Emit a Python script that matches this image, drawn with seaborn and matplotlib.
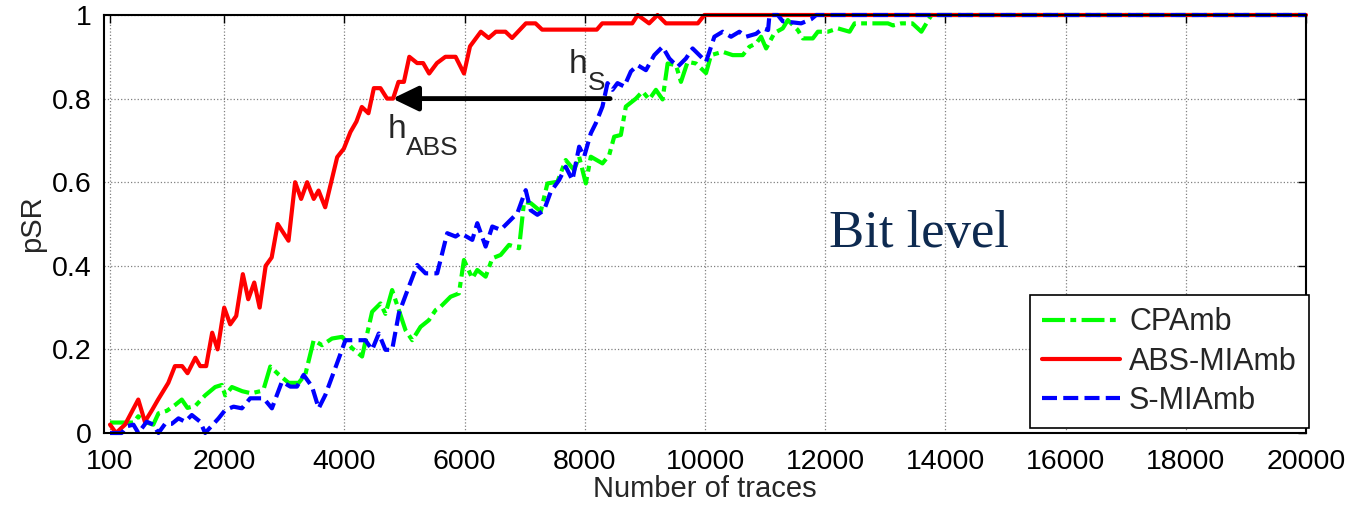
import matplotlib
matplotlib.use("Agg")
import matplotlib.pyplot as plt
import seaborn as sns
import pandas as pd

# ---------------- data ----------------
cpa_x = [100, 490, 570, 710, 820, 906, 1044, 1183, 1294, 1389, 1520, 1683, 1850, 1961, 2017,
         2128, 2300, 2450, 2600, 2656, 2767, 2906, 3072, 3239, 3350, 3489, 3628, 3794, 3961,
         4128, 4294, 4461, 4600, 4683, 4794, 4906, 5017, 5128, 5267, 5406, 5517, 5600, 5767,
         5906, 5989, 6128, 6211, 6350, 6461, 6600, 6739, 6906, 6989, 7100, 7267, 7378, 7544,
         7683, 7822, 7906, 8017, 8100, 8294, 8406, 8489, 8600, 8683, 8850, 8961, 9072, 9183,
         9294, 9378, 9517, 9600, 9711, 9850, 10017, 10100, 10294, 10461, 10628, 10739, 10850,
         10933, 11017, 11156, 11294, 11378, 11544, 11628, 11794, 11878, 12044, 12211, 12406,
         12489, 13044, 13128, 13267, 13450, 13600, 13767, 20000]
cpa_y = [0.025, 0.025, 0.04, 0.025, 0.02, 0.047, 0.053, 0.067, 0.08, 0.06, 0.065, 0.09, 0.11,
         0.115, 0.09, 0.11, 0.10, 0.095, 0.10, 0.105, 0.159, 0.14, 0.12, 0.12, 0.14, 0.222,
         0.21, 0.226, 0.23, 0.203, 0.183, 0.29, 0.31, 0.285, 0.342, 0.294, 0.246, 0.222, 0.254,
         0.27, 0.294, 0.302, 0.326, 0.334, 0.414, 0.37, 0.39, 0.374, 0.418, 0.426, 0.45, 0.442,
         0.553, 0.55, 0.53, 0.597, 0.601, 0.653, 0.629, 0.661, 0.597, 0.661, 0.645, 0.665,
         0.709, 0.713, 0.781, 0.80, 0.817, 0.798, 0.821, 0.798, 0.884, 0.88, 0.84, 0.888, 0.884,
         0.861, 0.904, 0.912, 0.904, 0.904, 0.924, 0.932, 0.948, 0.92, 0.957, 0.968, 0.988,
         0.964, 0.944, 0.944, 0.96, 0.96, 0.968, 0.96, 0.98, 0.98, 0.975, 0.98, 0.98, 0.96,
         1.0, 1.0]

abs_x = [100, 200, 350, 570, 680, 800, 900, 1070, 1180, 1300, 1390, 1520, 1600, 1700, 1800,
         1890, 2000, 2100, 2200, 2310, 2400, 2500, 2590, 2690, 2790, 2890, 3070, 3180, 3280,
         3380, 3490, 3570, 3680, 3880, 3990, 4100, 4200, 4290, 4400, 4490, 4600, 4710, 4810,
         4900, 4990, 5080, 5210, 5310, 5410, 5540, 5680, 5850, 5990, 6090, 6270, 6400, 6520,
         6680, 6790, 7020, 7180, 7290, 8200, 8290, 8790, 8880, 9070, 9210, 9350, 9880, 9990,
         20000]
abs_y = [0.02, 0.0, 0.02, 0.08, 0.027, 0.055, 0.08, 0.12, 0.16, 0.16, 0.143, 0.18, 0.16, 0.16,
         0.24, 0.20, 0.30, 0.26, 0.28, 0.38, 0.32, 0.36, 0.30, 0.40, 0.42, 0.50, 0.46, 0.60,
         0.56, 0.60, 0.56, 0.58, 0.54, 0.66, 0.68, 0.72, 0.745, 0.78, 0.765, 0.825, 0.825, 0.80,
         0.80, 0.84, 0.84, 0.90, 0.885, 0.885, 0.86, 0.885, 0.90, 0.90, 0.86, 0.925, 0.96, 0.945,
         0.96, 0.96, 0.945, 0.98, 0.98, 0.965, 0.965, 0.98, 0.98, 1.0, 0.98, 1.0, 0.98, 0.98,
         1.0, 1.0]

s_x = [100, 294, 378, 489, 572, 711, 822, 906, 1017, 1128, 1239, 1350, 1461, 1600, 1683, 1906,
       2017, 2156, 2294, 2433, 2656, 2794, 2961, 3100, 3211, 3322, 3461, 3572, 3683, 3878,
       4017, 4183, 4350, 4461, 4572, 4683, 4794, 4906, 5072, 5211, 5350, 5544, 5711, 5850,
       5933, 6128, 6211, 6350, 6461, 6600, 6739, 6878, 7017, 7100, 7211, 7322, 7433, 7572,
       7683, 7794, 7906, 7989, 8100, 8183, 8294, 8378, 8461, 8544, 8656, 8767, 8878, 9017,
       9156, 9294, 9406, 9544, 9683, 9794, 9906, 10017, 10156, 10294, 10433, 10572, 10683,
       10850, 10961, 11050, 11072, 11211, 11294, 11600, 11767, 11850, 20000]
s_y = [0.0, 0.0, 0.016, 0.02, 0.0, 0.027, 0.02, 0.0, 0.022, 0.022, 0.035, 0.027, 0.043, 0.027,
       0.0, 0.035, 0.055, 0.063, 0.059, 0.083, 0.083, 0.059, 0.123, 0.111, 0.111, 0.139, 0.111,
       0.059, 0.091, 0.167, 0.222, 0.222, 0.222, 0.199, 0.238, 0.199, 0.199, 0.286, 0.35,
       0.402, 0.382, 0.382, 0.478, 0.47, 0.478, 0.462, 0.502, 0.446, 0.494, 0.486, 0.506,
       0.526, 0.581, 0.533, 0.522, 0.533, 0.577, 0.605, 0.637, 0.605, 0.685, 0.661, 0.717,
       0.741, 0.781, 0.837, 0.821, 0.837, 0.829, 0.865, 0.88, 0.868, 0.904, 0.924, 0.896,
       0.876, 0.896, 0.92, 0.904, 0.888, 0.948, 0.96, 0.948, 0.96, 0.948, 0.955, 0.968, 0.964,
       1.0, 1.0, 0.985, 0.98, 0.99, 1.0, 1.0]

series_names = ["CPAmb", "ABS-MIAmb", "S-MIAmb"]
x_ticks = [100, 2000, 4000, 6000, 8000, 10000, 12000, 14000, 16000, 18000, 20000]
y_ticks = [0, 0.2, 0.4, 0.6, 0.8, 1.0]
y_tick_labels = ["0", "0.2", "0.4", "0.6", "0.8", "1"]

# ---------------- style ----------------
sns.set_style("white")
plt.rcParams["font.family"] = ["Liberation Sans", "DejaVu Sans"]

W, H = 1356, 509
fig = plt.figure(figsize=(W / 100, H / 100), dpi=100)
ax = fig.add_axes([104 / W, 1 - 433 / H, 1202 / W, 418 / H])

df_cpa = pd.DataFrame({"x": cpa_x, "y": cpa_y})
df_abs = pd.DataFrame({"x": abs_x, "y": abs_y})
df_s = pd.DataFrame({"x": s_x, "y": s_y})

sns.lineplot(data=df_cpa, x="x", y="y", ax=ax, color="#00ff00", linewidth=3,
             linestyle=(0, (5.5, 1.3, 1.4, 1.3)), errorbar=None, sort=False,
             label=series_names[0], clip_on=False)
sns.lineplot(data=df_abs, x="x", y="y", ax=ax, color="#ff0000", linewidth=3,
             linestyle="-", errorbar=None, sort=False, label=series_names[1], clip_on=False)
sns.lineplot(data=df_s, x="x", y="y", ax=ax, color="#0000ff", linewidth=3,
             linestyle=(0, (3.6, 1.5)), errorbar=None, sort=False,
             label=series_names[2], clip_on=False)

ax.set_xlim(0, 20000)
ax.set_ylim(0, 1)
ax.set_xticks(x_ticks)
ax.set_xticklabels([str(t) for t in x_ticks])
ax.set_yticks(y_ticks)
ax.set_yticklabels(y_tick_labels)
ax.set_axisbelow(True)
ax.grid(True, linestyle=":", color="#808080", linewidth=0.9)

for sp in ax.spines.values():
    sp.set_visible(True)
    sp.set_color("black")
    sp.set_linewidth(1.5)
ax.tick_params(axis="both", direction="in", top=True, right=True, length=6, width=1,
               colors="black", labelsize=20.5)
ax.tick_params(axis="x", pad=11.5)
ax.tick_params(axis="y", pad=9)

ax.set_xlabel("Number of traces", fontsize=21, labelpad=0)
ax.set_ylabel("pSR", fontsize=21, labelpad=4)

# arrow and annotations
ax.annotate("", xy=(4800, 0.8), xytext=(8420, 0.8),
            arrowprops=dict(arrowstyle="-|>,head_length=0.62,head_width=0.3",
                            color="black", lw=3.5, mutation_scale=25,
                            shrinkA=0, shrinkB=0))
ax.text(7733, 0.861, "h", fontsize=24, ha="left", va="baseline")
ax.text(8050, 0.821, "S", fontsize=19, ha="left", va="baseline")
ax.text(4717, 0.706, "h", fontsize=24, ha="left", va="baseline")
ax.text(5017, 0.665, "ABS", fontsize=19, ha="left", va="baseline")

ax.text(12067, 0.445, "Bit level", fontsize=38, family=["Liberation Serif", "DejaVu Serif"],
        color="#0e2a50", ha="left", va="baseline")

leg = ax.legend(loc="lower right", bbox_to_anchor=(1.0025, 0.012), fontsize=22, frameon=True,
                fancybox=False, edgecolor="black", handlelength=2.55, handletextpad=0.3,
                labelspacing=0.3, borderpad=0.4, borderaxespad=0)
leg.get_frame().set_linewidth(1.2)
leg.get_frame().set_alpha(1)

fig.savefig("out.png", dpi=100)
